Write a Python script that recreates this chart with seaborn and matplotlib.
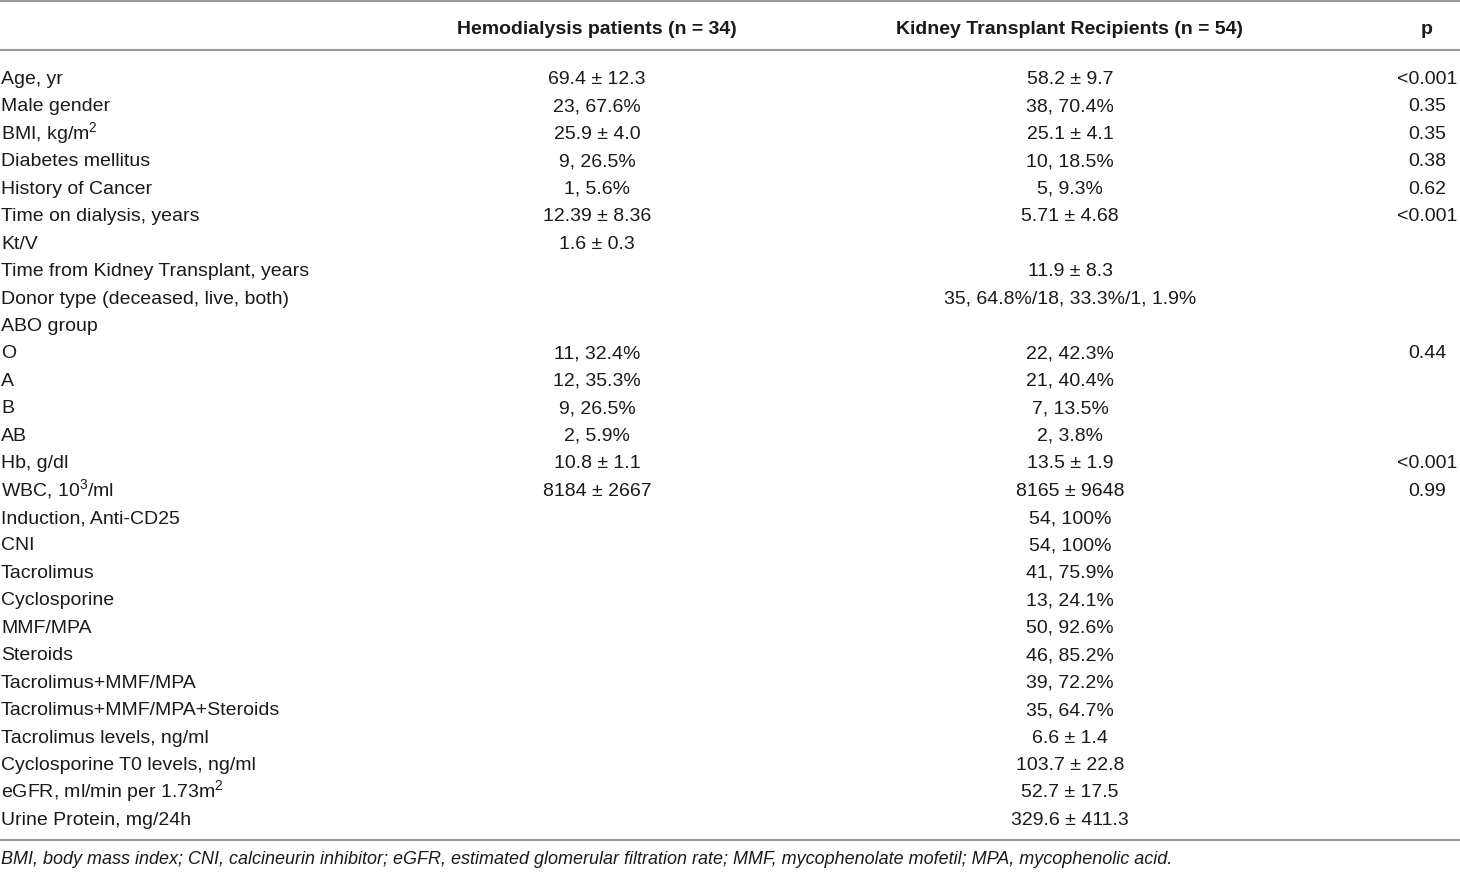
import matplotlib
matplotlib.use("Agg")
import matplotlib.pyplot as plt
import seaborn as sns

headers = ["", "Hemodialysis patients (n = 34)", "Kidney Transplant Recipients (n = 54)", "p"]

labels = [
    "Age, yr", "Male gender", "BMI, kg/m$\\mathregular{^2}$", "Diabetes mellitus",
    "History of Cancer", "Time on dialysis, years", "Kt/V",
    "Time from Kidney Transplant, years", "Donor type (deceased, live, both)",
    "ABO group", "O", "A", "B", "AB", "Hb, g/dl", "WBC, 10$\\mathregular{^3}$/ml",
    "Induction, Anti-CD25", "CNI", "Tacrolimus", "Cyclosporine", "MMF/MPA",
    "Steroids", "Tacrolimus+MMF/MPA", "Tacrolimus+MMF/MPA+Steroids",
    "Tacrolimus levels, ng/ml", "Cyclosporine T0 levels, ng/ml",
    "eGFR, ml/min per 1.73m$\\mathregular{^2}$", "Urine Protein, mg/24h",
]

hemodialysis = [
    "69.4 ± 12.3", "23, 67.6%", "25.9 ± 4.0", "9, 26.5%", "1, 5.6%",
    "12.39 ± 8.36", "1.6 ± 0.3", "", "", "", "11, 32.4%", "12, 35.3%",
    "9, 26.5%", "2, 5.9%", "10.8 ± 1.1", "8184 ± 2667",
    "", "", "", "", "", "", "", "", "", "", "", "",
]

transplant = [
    "58.2 ± 9.7", "38, 70.4%", "25.1 ± 4.1", "10, 18.5%", "5, 9.3%",
    "5.71 ± 4.68", "", "11.9 ± 8.3", "35, 64.8%/18, 33.3%/1, 1.9%", "",
    "22, 42.3%", "21, 40.4%", "7, 13.5%", "2, 3.8%", "13.5 ± 1.9", "8165 ± 9648",
    "54, 100%", "54, 100%", "41, 75.9%", "13, 24.1%", "50, 92.6%", "46, 85.2%",
    "39, 72.2%", "35, 64.7%", "6.6 ± 1.4", "103.7 ± 22.8", "52.7 ± 17.5",
    "329.6 ± 411.3",
]

p_values = [
    "<0.001", "0.35", "0.35", "0.38", "0.62", "<0.001", "", "", "", "",
    "0.44", "", "", "", "<0.001", "0.99",
    "", "", "", "", "", "", "", "", "", "", "", "",
]

footnote = ("BMI, body mass index; CNI, calcineurin inhibitor; eGFR, estimated glomerular "
            "filtration rate; MMF, mycophenolate mofetil; MPA, mycophenolic acid.")

sns.set_theme(style="white")
plt.rcParams["font.family"] = ["Liberation Sans", "DejaVu Sans"]

W, H = 1460, 872
fig = plt.figure(figsize=(W / 100, H / 100), dpi=100)
ax = fig.add_axes([0, 0, 1, 1])
ax.set_xlim(0, W)
ax.set_ylim(H, 0)
ax.axis("off")

txt = "#1a1a1a"
line = "#9a9a9a"
fs = 14

col_x = [1, 597, 1070, 1427]
ha = ["left", "center", "center", "center"]

for x, h, a in zip(col_x, headers, ha):
    ax.text(x, 34, h, ha=a, va="baseline", fontsize=14, fontweight="bold", color=txt)

y0, dy = 84, 27.44
for i, (lab, hd, kt, p) in enumerate(zip(labels, hemodialysis, transplant, p_values)):
    y = y0 + i * dy
    for x, s, a in zip(col_x, [lab, hd, kt, p], ha):
        if s:
            ax.text(x, y, s, ha=a, va="baseline", fontsize=fs, color=txt)

for y in [1, 50, 840]:
    ax.plot([0, W], [y, y], color=line, lw=1.5, solid_capstyle="butt")

ax.text(1, 864, footnote, ha="left", va="baseline", fontsize=13, style="italic", color=txt)

fig.savefig("out.png", dpi=100)
